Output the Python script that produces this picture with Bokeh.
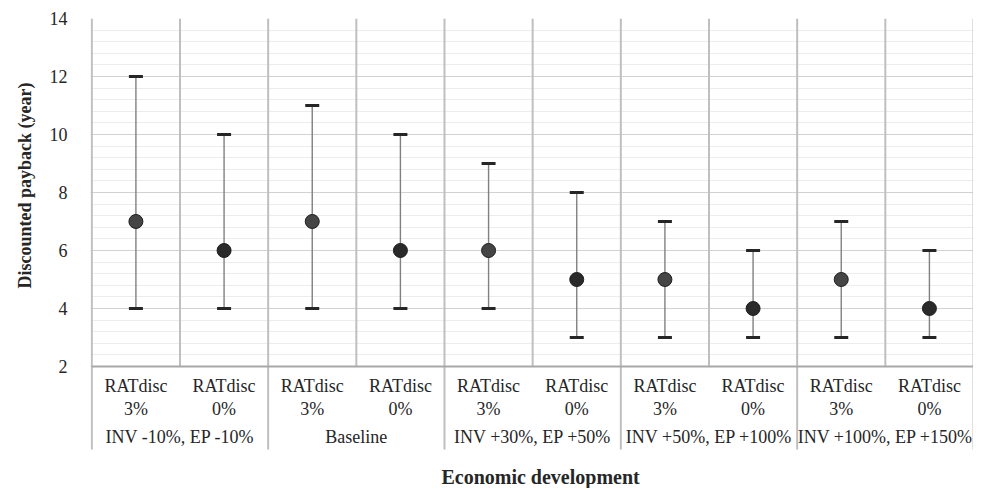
from bokeh.plotting import figure
from bokeh.models import Range1d, SingleIntervalTicker, ColumnDataSource, LinearAxis, Title
from bokeh.core.properties import value
from bokeh.embed import file_html
from bokeh.resources import INLINE

# ---- data ----
groups = ["INV -10%, EP -10%", "Baseline", "INV +30%, EP +50%", "INV +50%, EP +100%", "INV +100%, EP +150%"]
subcats = ["RATdisc\n3%", "RATdisc\n0%"]
means = [7, 6, 7, 6, 6, 5, 5, 4, 5, 4]
lows = [4, 4, 4, 4, 4, 3, 3, 3, 3, 3]
highs = [12, 10, 11, 10, 9, 8, 7, 6, 7, 6]
y_ticks = [2, 4, 6, 8, 10, 12, 14]
x_title = "Economic development"
y_title = "Discounted payback (year)"

FONT = "Liberation Serif, Times New Roman, Times, serif"
TXT = "#262626"
PX = 29.0  # pixels per y unit

n = len(means)
nsub = len(subcats)
xs = [i + 0.5 for i in range(n)]
sub_labels = [subcats[i % nsub] for i in range(n)]
group_x = [g * nsub + nsub / 2 for g in range(len(groups))]

ymin, ymax = y_ticks[0], y_ticks[-1]
band_bottom = ymin - 83 / PX      # bottom of the category-label band
y_bottom = ymin - 122 / PX        # bottom of the frame (room for x title)

p = figure(width=973, height=488, output_backend="svg", toolbar_location=None,
           x_range=Range1d(-0.015, n), y_range=Range1d(y_bottom, ymax),
           min_border_left=82, min_border_right=0, min_border_top=18, min_border_bottom=0,
           x_axis_location=None, y_axis_location=None)
p.outline_line_color = None
p.background_fill_color = "white"
p.border_fill_color = "white"

# y axis
yax = LinearAxis(ticker=SingleIntervalTicker(interval=2, num_minor_ticks=5), bounds=(ymin, ymax))
yax.axis_line_color = None
yax.major_tick_line_color = None
yax.minor_tick_line_color = None
yax.major_label_standoff = 17
yax.major_label_text_font = FONT
yax.major_label_text_font_size = "18px"
yax.major_label_text_color = TXT
p.add_layout(yax, "left")

# y title, placed along the 2..14 span
yt = Title(text=y_title, align="left", offset=200, standoff=24,
           text_font=FONT, text_font_size="18px", text_font_style="bold", text_color=TXT)
p.add_layout(yt, "left")

# grids
p.xgrid.visible = False
p.ygrid.ticker = yax.ticker
p.ygrid.bounds = (ymin, ymax)
p.ygrid.grid_line_color = "#d2d2d2"
p.ygrid.grid_line_width = 1
p.ygrid.minor_grid_line_color = "#ececec"
p.ygrid.minor_grid_line_width = 1

# vertical separators
sep_x = list(range(n + 1))
sep_y0 = [band_bottom if i % nsub == 0 else ymin for i in sep_x]
p.segment(x0=sep_x, y0=sep_y0, x1=sep_x, y1=[ymax] * len(sep_x),
          line_color="#bfbfbf", line_width=2)

# baseline
p.segment(x0=[0], y0=[ymin], x1=[n], y1=[ymin], line_color="#a8a8a8", line_width=2)

# error bars
src = ColumnDataSource(dict(x=xs, mean=means, low=lows, high=highs,
                            fill=["#454545" if i % nsub == 0 else "#2a2a2a" for i in range(n)]))
p.segment(x0="x", y0="low", x1="x", y1="high", source=src, line_color="#808080", line_width=1.4)
p.scatter(x="x", y="low", source=src, marker="dash", size=14, line_width=3, line_color="#262626")
p.scatter(x="x", y="high", source=src, marker="dash", size=14, line_width=3, line_color="#262626")
p.scatter(x="x", y="mean", source=src, marker="circle", size=14, fill_color="fill",
          line_color="#1e1e1e", line_width=1)

# category labels
p.text(x=xs, y=[ymin - 31 / PX] * n, text=sub_labels, text_font=value(FONT),
       text_font_size="18px", text_color=TXT, text_align="center", text_baseline="middle",
       text_line_height=1.15)
p.text(x=group_x, y=[ymin - 70 / PX] * len(groups), text=groups, text_font=value(FONT),
       text_font_size="18px", text_color=TXT, text_align="center", text_baseline="middle")

# x title
p.text(x=[5.09], y=[ymin - 110 / PX], text=[x_title], text_font=value(FONT),
       text_font_size="20px", text_font_style="bold", text_color=TXT,
       text_align="center", text_baseline="middle")

open("out.html", "w").write(file_html(p, INLINE))
